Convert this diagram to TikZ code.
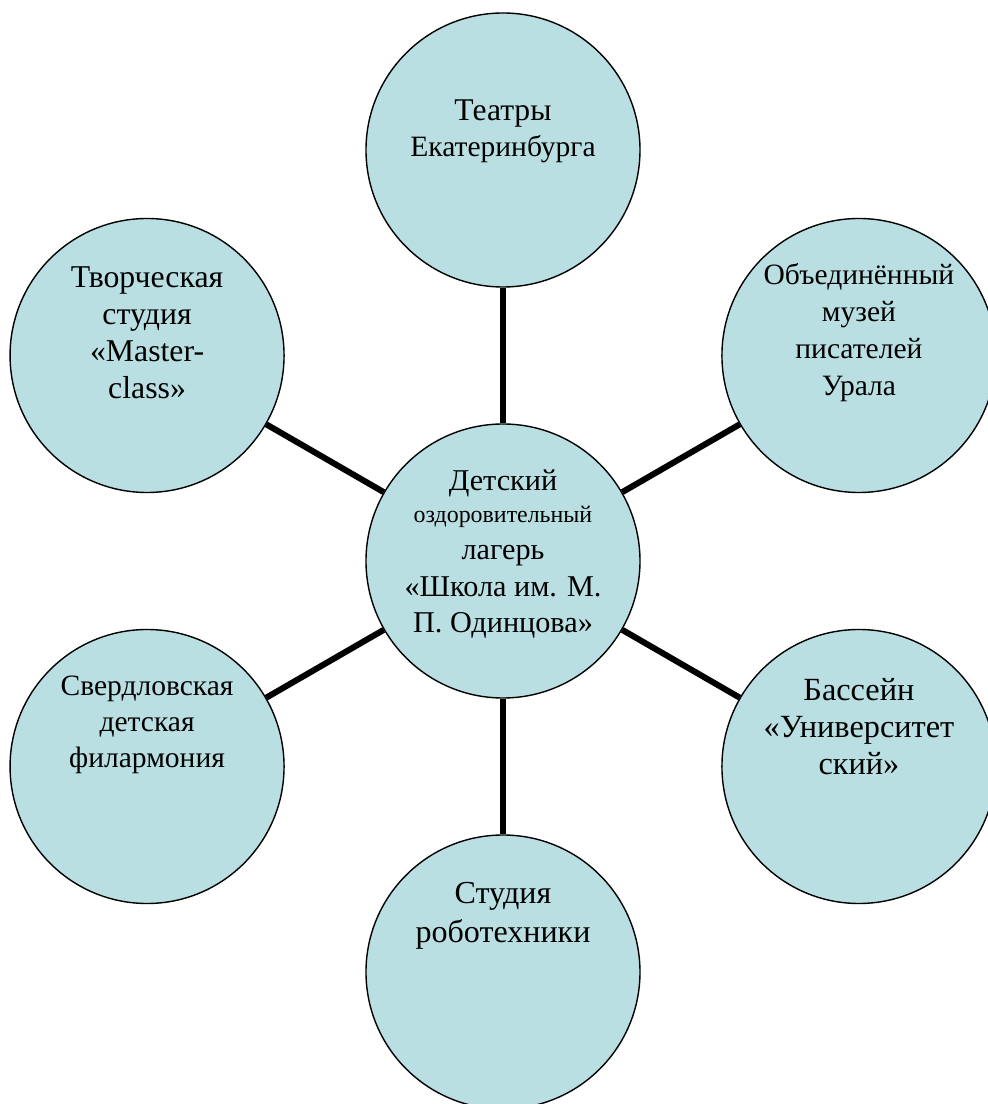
\documentclass[tikz,border=0pt]{standalone}
\usepackage{fontspec}
\setmainfont{Liberation Serif}
\definecolor{placefill}{RGB}{186,223,227}
\begin{document}
\begin{tikzpicture}[line join=round,
    place/.style={circle, draw=black, line width=1pt, fill=placefill, minimum size=6.85cm, inner sep=0pt},
    caption/.style={align=center, anchor=base, inner sep=0pt, font=\fontsize{22}{26.3}\selectfont},
    link/.style={line width=4.3pt}]
  \useasboundingbox (-12.575,-13.575) rectangle (12.1,14.025);
  \node[place] (camp) at (0,0) {};
  \node[place] (theatre) at (90:10.275) {};
  \node[place] (museum) at (30:10.275) {};
  \node[place] (pool) at (-30:10.275) {};
  \node[place] (robot) at (-90:10.275) {};
  \node[place] (phil) at (210:10.275) {};
  \node[place] (studio) at (150:10.275) {};
  \foreach \n in {theatre,museum,pool,robot,phil,studio}
    \draw[link] (camp) -- (\n);

  % captions sit on the baseline of their last line
  \node[caption, font=\fontsize{21.5}{26.3}\selectfont] (campText) at ([yshift=-1.8cm]camp.center)
    {Детский\\[-4pt]{\fontsize{17}{20}\selectfont оздоровительный}\\лагерь\\«Школа им. М.\\П. Одинцова»};
  \node[caption, font=\fontsize{22.5}{26.3}\selectfont] (theatreText) at ([yshift=-0.175cm]theatre.center)
    {Театры\\{\fontsize{21}{25}\selectfont Екатеринбурга}};
  \node[caption, font=\fontsize{21}{26.3}\selectfont] (museumText) at ([yshift=-1.0cm]museum.center)
    {Объединённый\\музей\\писателей\\Урала};
  \node[caption, font=\fontsize{23}{26.3}\selectfont] (poolText) at ([yshift=-0.2cm]pool.center)
    {Бассейн\\«Университет\\ский»};
  \node[caption, font=\fontsize{22.8}{27.5}\selectfont] (robotText) at ([yshift=0.75cm]robot.center)
    {Студия\\роботехники};
  \node[caption, font=\fontsize{21}{25.5}\selectfont] (philText) at ([yshift=-0.025cm]phil.center)
    {Свердловская\\детская\\филармония};
  \node[caption, font=\fontsize{22.6}{26.3}\selectfont] (studioText) at ([yshift=-1.075cm]studio.center)
    {Творческая\\студия\\«Master-\\class»};
\end{tikzpicture}
\end{document}
